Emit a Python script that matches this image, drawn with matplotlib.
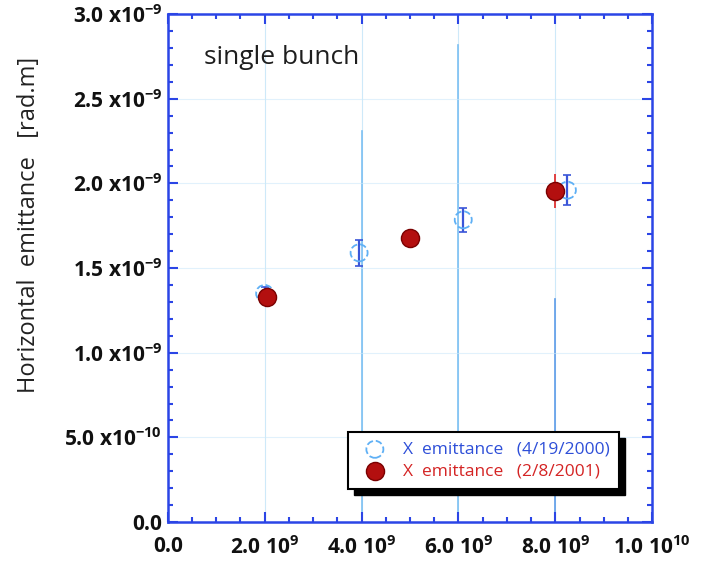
import matplotlib.pyplot as plt
import matplotlib.ticker as mtick
from matplotlib.patches import Rectangle

plt.rcParams['font.family'] = ['Open Sans', 'DejaVu Sans']
plt.rcParams['mathtext.fontset'] = 'custom'
plt.rcParams['mathtext.bf'] = 'Open Sans:bold'
plt.rcParams['mathtext.default'] = 'bf'

# Emittance measurements, two beam studies
blue_x = [2.0e9, 3.95e9, 6.1e9, 8.25e9]
blue_y = [1.35e-9, 1.59e-9, 1.785e-9, 1.96e-9]
blue_err = [0.04e-9, 0.075e-9, 0.07e-9, 0.09e-9]
red_x = [2.05e9, 5.0e9, 8.0e9]
red_y = [1.33e-9, 1.68e-9, 1.955e-9]
red_err = [0.02e-9, 0.02e-9, 0.1e-9]

x_ticks = [0, 2e9, 4e9, 6e9, 8e9, 1e10]
x_labels = ['0.0', '2.0 10$^{9}$', '4.0 10$^{9}$', '6.0 10$^{9}$',
            '8.0 10$^{9}$', '1.0 10$^{10}$']
y_ticks = [0, 0.5e-9, 1.0e-9, 1.5e-9, 2.0e-9, 2.5e-9, 3.0e-9]
y_labels = ['0.0', '5.0 x10$^{-10}$', '1.0 x10$^{-9}$', '1.5 x10$^{-9}$',
            '2.0 x10$^{-9}$', '2.5 x10$^{-9}$', '3.0 x10$^{-9}$']

axis_blue = '#2b45e6'
fig = plt.figure(figsize=(7.02, 5.62), dpi=100)
ax = fig.add_axes([0.239, 0.071, 0.69, 0.904])

# faint grid, with a few brighter streaks
for xv in x_ticks[1:-1]:
    ax.axvline(xv, color='#9fd4f5', lw=0.8, alpha=0.5, zorder=0)
ax.axvline(4e9, ymin=0.0, ymax=0.77, color='#7cc0f2', lw=1.2, zorder=0)
ax.axvline(6e9, ymin=0.0, ymax=0.94, color='#7cc0f2', lw=1.2, zorder=0)
ax.axvline(8e9, ymin=0.0, ymax=0.44, color='#5d9be8', lw=1.2, zorder=0)
for yv in y_ticks[1:-1]:
    ax.axhline(yv, color='#cde9fa', lw=0.8, alpha=0.6, zorder=0)

ax.errorbar(blue_x, blue_y, yerr=blue_err, fmt='none', ecolor='#3a55d8',
            elinewidth=1.6, capsize=3, capthick=1.2, zorder=2)
blue = ax.scatter(blue_x, blue_y, s=150, facecolors='none',
                  edgecolors='#5fb0f5', linestyle='--', linewidths=1.3,
                  zorder=3, label='X  emittance   (4/19/2000)')
ax.errorbar(red_x, red_y, yerr=red_err, fmt='none', ecolor='#e04040',
            elinewidth=1.4, capsize=0, zorder=4)
red = ax.scatter(red_x, red_y, s=170, color='#b30f0f', edgecolors='#7a0000',
                 linewidths=1.0, zorder=5, label='X  emittance   (2/8/2001)')

ax.set_xlim(0, 1e10)
ax.set_ylim(0, 3e-9)
ax.set_xticks(x_ticks, x_labels)
ax.set_yticks(y_ticks, y_labels)
ax.xaxis.set_minor_locator(mtick.MultipleLocator(0.5e9))
ax.yaxis.set_minor_locator(mtick.MultipleLocator(0.1e-9))
ax.tick_params(which='both', direction='in', top=True, right=True,
               color=axis_blue, width=1.5)
ax.tick_params(which='major', length=7)
ax.tick_params(which='minor', length=3.5)
ax.tick_params(axis='x', pad=10)
ax.tick_params(axis='y', pad=4)
for lab in ax.get_xticklabels() + ax.get_yticklabels():
    lab.set_fontsize(15)
    lab.set_fontweight('bold')
    lab.set_color('#111111')
for sp in ax.spines.values():
    sp.set_color(axis_blue)
    sp.set_linewidth(1.8)

ax.set_ylabel('Horizontal  emittance   [rad.m]', fontsize=17, color='#222222')
ax.yaxis.set_label_coords(-0.262, 0.585)
ax.text(0.075, 0.915, 'single bunch', transform=ax.transAxes, fontsize=19,
        color='#1e1e1e', va='center')

leg = ax.legend(handles=[blue, red], loc='upper left',
                bbox_to_anchor=(0.372, 0.177), borderaxespad=0,
                fontsize=12.5, frameon=True, fancybox=False,
                edgecolor='black', borderpad=0.55, handletextpad=0.6,
                labelspacing=0.3, framealpha=1)
leg.get_frame().set_linewidth(1.5)
leg.set_zorder(10)
leg.get_texts()[0].set_color('#2e4fd8')
leg.get_texts()[1].set_color('#d42424')

# drop shadow behind the legend
fig.canvas.draw()
bb = leg.get_window_extent().transformed(ax.transAxes.inverted())
shadow = Rectangle((bb.x0 + 0.012, bb.y0 - 0.012), bb.width, bb.height,
                   transform=ax.transAxes, color='black', zorder=9,
                   clip_on=False)
ax.add_patch(shadow)

plt.savefig('out.png', dpi=100)
